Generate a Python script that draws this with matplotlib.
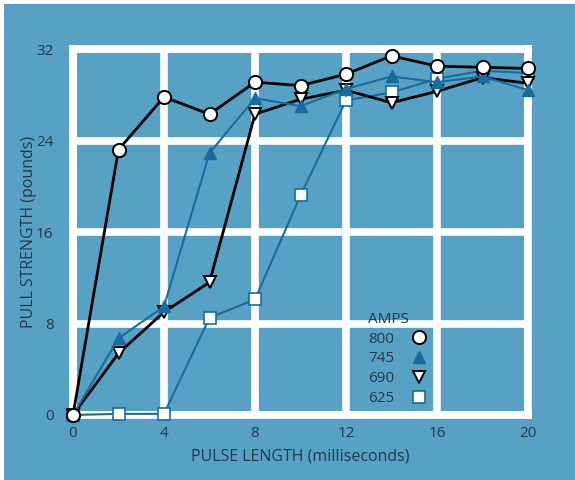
import matplotlib
matplotlib.use("Agg")
import matplotlib.pyplot as plt
from matplotlib.patches import Rectangle

BG = "#57a2c4"       # chart background
DARK_BLUE = "#166c9e"  # blue series
TEXT = "#22384a"

# pulse length (ms)
pulse = [0, 2, 4, 6, 8, 10, 12, 14, 16, 18, 20]

# pull strength (pounds) per current setting
amps_800 = [0, 23.2, 27.8, 26.3, 29.1, 28.8, 29.8, 31.4, 30.5, 30.4, 30.3]
amps_745 = [0, 6.7, 9.5, 22.9, 27.7, 27.0, 28.5, 29.6, 29.1, 29.6, 28.4]
amps_690 = [0, 5.4, 9.0, 11.6, 26.3, 27.6, 28.4, 27.3, 28.3, 29.5, 29.0]
amps_625 = [0, 0.1, 0.1, 8.5, 10.1, 19.2, 27.5, 28.2, 29.4, 30.1, 29.9]

xticks = [0, 4, 8, 12, 16, 20]
yticks = [0, 8, 16, 24, 32]

plt.rcParams['font.family'] = ['Open Sans', 'DejaVu Sans']

fig = plt.figure(figsize=(5.75, 4.8), dpi=100)
fig.patch.set_facecolor("white")
# blue panel with a thin white edge at top/left like the scan
fig.patches.append(Rectangle((4 / 575, 0), 1, 1 - 4 / 480, transform=fig.transFigure,
                             facecolor=BG, edgecolor="none", zorder=-10))

ax = fig.add_axes([73 / 575, 65 / 480, 455 / 575, 366 / 480])
ax.set_facecolor(BG)
ax.set_xlim(0, 20)
ax.set_ylim(0, 32)
ax.set_xticks(xticks)
ax.set_yticks(yticks)
ax.grid(True, color="white", linewidth=5.5)
ax.set_axisbelow(True)
for s in ax.spines.values():
    s.set_color("white")
    s.set_linewidth(5.5)
    s.set_zorder(0.5)
ax.tick_params(length=0, labelsize=11, labelcolor=TEXT)
ax.tick_params(axis="y", pad=14)
ax.tick_params(axis="x", pad=8)

ax.plot(pulse, amps_625, color=DARK_BLUE, lw=1.5, marker="s", ms=9,
        mfc="white", mec=DARK_BLUE, mew=1.2, label="625", zorder=3, clip_on=False)
ax.plot(pulse, amps_690, color="black", lw=2, marker="v", ms=8.5,
        mfc="white", mec="black", mew=1.4, label="690", zorder=4, clip_on=False)
ax.plot(pulse, amps_745, color=DARK_BLUE, lw=1.5, marker="^", ms=8.5,
        mfc=DARK_BLUE, mec=DARK_BLUE, label="745", zorder=5, clip_on=False)
ax.plot(pulse, amps_800, color="black", lw=2, marker="o", ms=9.5,
        mfc="white", mec="black", mew=1.4, label="800", zorder=6, clip_on=False)

ax.set_xlabel("PULSE LENGTH (milliseconds)", fontsize=11.5, color=TEXT, labelpad=5)
ax.set_ylabel("PULL STRENGTH (pounds)", fontsize=11.5, color=TEXT, labelpad=-1)

h, l = ax.get_legend_handles_labels()
leg = ax.legend(h[::-1], l[::-1], title="AMPS", loc="upper left",
                bbox_to_anchor=(0.619, 0.32), frameon=False, markerfirst=False,
                handlelength=1.0, handletextpad=1.1, labelspacing=0.32,
                fontsize=11, title_fontsize=11, alignment="left")
for t in leg.get_texts():
    t.set_color(TEXT)
leg.get_title().set_color(TEXT)
for lh in leg.legend_handles:
    lh.set_linestyle("none")

fig.savefig("out.png", dpi=100, facecolor=fig.get_facecolor())
